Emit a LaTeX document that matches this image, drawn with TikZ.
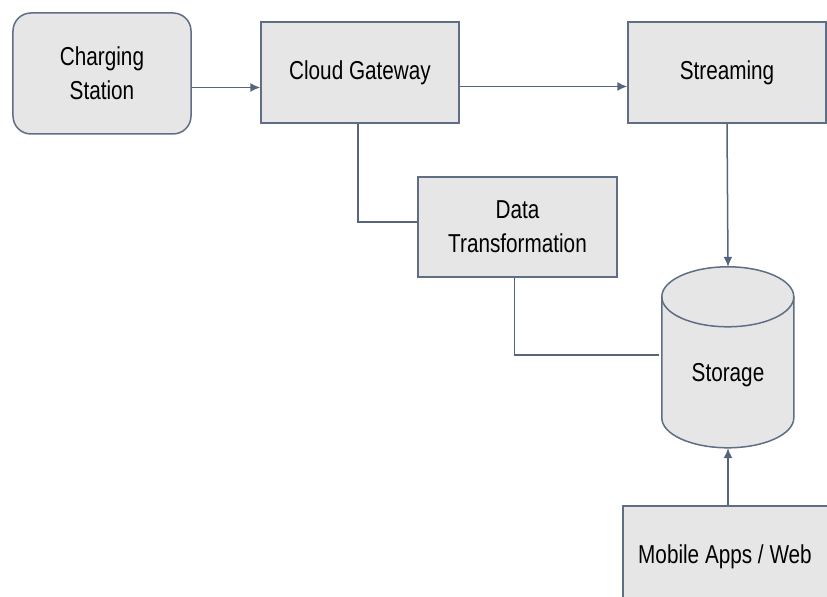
\documentclass[tikz,border=0pt]{standalone}
\usepackage{fontspec}
\setmainfont{Liberation Sans}[FakeStretch=0.8]
\usetikzlibrary{arrows.meta}
\definecolor{boxfill}{HTML}{E6E6E6}
\definecolor{edgecol}{HTML}{5F6E84}
\definecolor{linecol}{HTML}{56657C}
\tikzset{
  boxstyle/.style={draw=edgecol, line width=1.5bp, fill=boxfill, inner sep=0pt, align=center,
    font=\fontsize{26}{34}\selectfont, text=black},
  conn/.style={draw=linecol, line width=1.5bp},
  arr/.style={conn, -{Latex[length=10bp,width=9bp]}},
}
\begin{document}
\begin{tikzpicture}[x=1bp,y=1bp]
\useasboundingbox (0,0) rectangle (827,597);
\clip (0,0) rectangle (827,597);
\fill[white] (0,0) rectangle (827,597);

\node[boxstyle, rounded corners=18bp, minimum width=178bp, minimum height=121bp] (cs) at (102,523.5) {Charging\\Station};
\node[boxstyle, minimum width=198bp, minimum height=101bp] (cg) at (360,524.5) {Cloud Gateway};
\node[boxstyle, minimum width=198bp, minimum height=101bp] (str) at (727,524.5) {Streaming};
\node[boxstyle, minimum width=199bp, minimum height=100bp] (dt) at (517.5,370) {Data\\Transformation};
\node[boxstyle, minimum width=212bp, minimum height=102bp] (mob) at (729,40) {};
\node[font=\fontsize{26}{34}\selectfont, text=black] at ([xshift=-4bp]mob.center) {Mobile Apps / Web};

% storage cylinder
\node[minimum width=132bp, minimum height=181bp, inner sep=0pt] (st) at (728,239.5) {};
\path[draw=edgecol, line width=1.5bp, fill=boxfill]
  (st.north west) ++(0,-30) -- ++(0,-121)
  arc[start angle=180, end angle=360, x radius=66, y radius=30]
  -- ++(0,121)
  arc[start angle=0, end angle=180, x radius=66, y radius=30] -- cycle;
\draw[draw=edgecol, line width=1.5bp] (st.north west) ++(0,-30)
  arc[start angle=180, end angle=360, x radius=66, y radius=30];
\node[font=\fontsize{26}{34}\selectfont, text=black] at ([yshift=-18bp]st.center) {Storage};

% connectors
\draw[arr] ([yshift=-14bp]cs.east) -- ([yshift=-14bp]cs.east -| cg.west);
\draw[arr] ([yshift=-14bp]cg.east) -- ([yshift=-14bp]cg.east -| str.west);
\draw[conn] ([xshift=-2bp]cg.south) |- ([yshift=5bp]dt.west);
\draw[conn] ([xshift=-3bp]dt.south) |- ([xshift=-3bp,yshift=2.5bp]st.west);
\draw[arr] (str.south) -- (st.north);
\draw[arr] ([xshift=-1bp]mob.north) -- ([xshift=-1bp]mob.north |- st.south);
\end{tikzpicture}
\end{document}
